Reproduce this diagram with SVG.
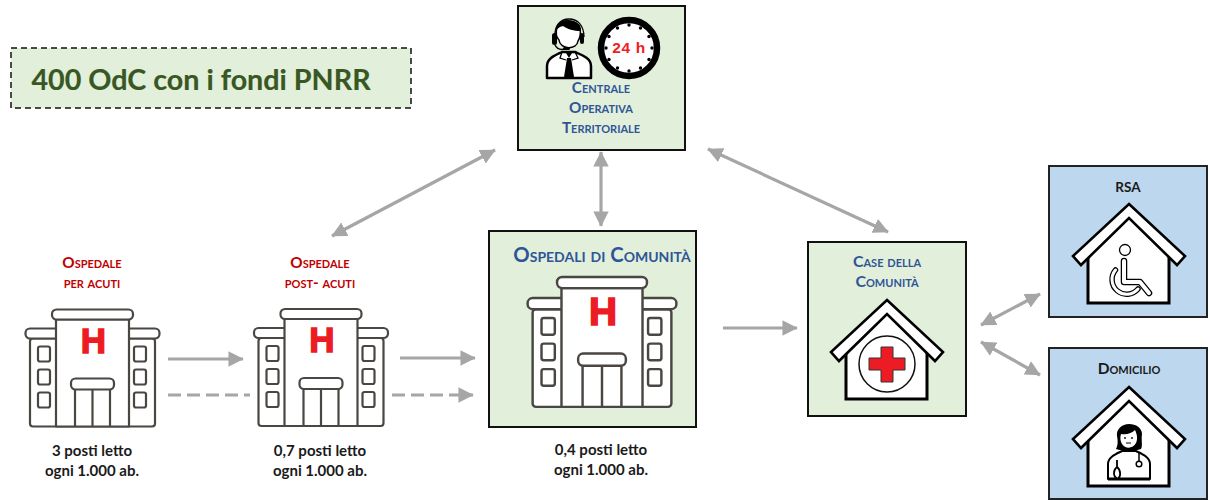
<svg xmlns="http://www.w3.org/2000/svg" xmlns:xlink="http://www.w3.org/1999/xlink" width="1210" height="500" viewBox="0 0 1210 500">
<style>
text{font-family:Lato,Carlito,"Open Sans",sans-serif;font-weight:700;text-anchor:middle}
.sc{font-variant:small-caps}
.red{fill:#c00000;font-size:15.300px}
.blue{fill:#2f5597;font-size:15.300px}
.blk{fill:#1a1a1a;font-size:15px}
.green{fill:#e2efda;stroke:#111;stroke-width:2}
.sky{fill:#bdd7ee;stroke:#222;stroke-width:2}
.arrow{fill:none;stroke:#a6a6a6;stroke-width:3.2}
.dash{stroke-dasharray:13 6}
.hl{fill:#fff;stroke:#4a4642;stroke-width:2.2;stroke-linejoin:round}
.hp{fill:none;stroke:#4a4642;stroke-width:2.2}
.hh{font-family:"Liberation Sans",Arial,sans-serif;font-weight:700;font-size:35px;fill:#ed1c24;stroke:#ed1c24;stroke-width:1.4}
.roof{fill:#fff;stroke:#000;stroke-width:2.6;stroke-linejoin:miter}
.wall{fill:#fff;stroke:#000;stroke-width:3}
</style>
<defs>
<marker id="ah" viewBox="0 0 10 10" refX="9.500" refY="5" markerWidth="4.800" markerHeight="4.800" orient="auto-start-reverse"><path d="M0 0L10 5L0 10Z" fill="#a6a6a6"/></marker>
<g id="hospital">
<rect class="hl" x="-62.500" y="29" width="125" height="88" rx="3"/>
<rect class="hl" x="-67" y="19" width="134" height="10" rx="4.500"/>
<rect class="hl" x="-36.500" y="10" width="73" height="107"/>
<rect class="hl" x="-40.500" y="0" width="81" height="10" rx="4.500"/>
<rect class="hp" x="-54.500" y="37" width="12" height="15" rx="2"/>
<rect class="hp" x="-54.500" y="60" width="12" height="15" rx="2"/>
<rect class="hp" x="-54.500" y="83" width="12" height="15" rx="2"/>
<rect class="hp" x="41.500" y="37" width="12" height="15" rx="2"/>
<rect class="hp" x="41.500" y="60" width="12" height="15" rx="2"/>
<rect class="hp" x="41.500" y="83" width="12" height="15" rx="2"/>
<path class="hp" d="M-17.500 80V117M0 80V117M17.500 80V117"/>
<rect class="hl" x="-21.500" y="69" width="43" height="11" rx="4.500"/>
<text class="hh" x="1" y="43">H</text>
</g>
<g id="house">
<path class="wall" d="M-41 45V99H40V45L0 8Z"/>
<path class="roof" d="M0 0L56 52L48 61L0 14L-48 61L-56 52Z"/>
</g>
</defs>

<g id="connectors">
<path class="arrow" marker-start="url(#ah)" marker-end="url(#ah)" d="M495 150L332 236"/>
<path class="arrow" marker-start="url(#ah)" marker-end="url(#ah)" d="M601 152V226"/>
<path class="arrow" marker-start="url(#ah)" marker-end="url(#ah)" d="M708 149L888 232"/>
<path class="arrow" marker-end="url(#ah)" d="M168 359H243"/>
<path class="arrow dash" d="M168 395H250"/>
<path class="arrow" marker-end="url(#ah)" d="M400 358H475"/>
<path class="arrow dash" marker-end="url(#ah)" d="M392 395H473"/>
<path class="arrow" marker-end="url(#ah)" d="M723 328H797"/>
<path class="arrow" marker-start="url(#ah)" marker-end="url(#ah)" d="M981 325L1040 294"/>
<path class="arrow" marker-start="url(#ah)" marker-end="url(#ah)" d="M981 342L1040 375"/>
</g>

<g id="title">
<rect x="11" y="48" width="400" height="60" fill="#e2efda" stroke="#111" stroke-width="1.500" stroke-dasharray="6 4"/>
<text x="201" y="90" style="font-size:28.700px;fill:#385723;stroke:#385723;stroke-width:.15">400 OdC con i fondi PNRR</text>
</g>

<g id="cot">
<rect class="green" x="518" y="6" width="167" height="144"/>
<g id="operator">
<path d="M555 37C554 26 560 19 569 19C578 19 584 26 584 37" fill="none" stroke="#000" stroke-width="1.300"/>
<path d="M557 27C560 19 578 19 580 28C581 34 580 38 578 41C577 50 560 50 559 40C556 37 556 31 557 27Z" fill="#fff" stroke="#000" stroke-width="1.500"/>
<path d="M555 34C557 28 559 27 563 26C567 29 574 31 581 31C581 24 575 20 568 20C560 20 555 26 555 34Z" fill="#000"/>
<rect x="552" y="33" width="5" height="12" rx="2.500" fill="#000"/>
<rect x="580" y="33" width="4" height="11" rx="2" fill="#000"/>
<path d="M555 45C557 49 561 50 565 49" fill="none" stroke="#000" stroke-width="1.500"/>
<rect x="563" y="47" width="7" height="3" rx="1.500" fill="#000"/>
<path d="M547 78V66C547 58 556 55 562 52H575C582 55 591 58 591 66V78Z" fill="#fff" stroke="#000" stroke-width="2.500" stroke-linejoin="round"/>
<path d="M566 53L569 58L572 53ZM567 58H571L574 77H564Z" fill="#000"/>
<path d="M562 52L560 58L566 60M575 52L578 58L572 60" fill="none" stroke="#000" stroke-width="1.300"/>
</g>
<g id="clock">
<circle cx="629" cy="48" r="28" fill="#fff" stroke="#000" stroke-width="6.500"/>
<g fill="#000">
<circle cx="629" cy="25" r="1.700"/><circle cx="640.500" cy="28" r="1.700"/><circle cx="649" cy="36.500" r="1.700"/><circle cx="652" cy="48" r="1.700"/><circle cx="649" cy="59.500" r="1.700"/><circle cx="640.500" cy="68" r="1.700"/><circle cx="629" cy="71" r="1.700"/><circle cx="617.500" cy="68" r="1.700"/><circle cx="609" cy="59.500" r="1.700"/><circle cx="606" cy="48" r="1.700"/><circle cx="609" cy="36.500" r="1.700"/><circle cx="617.500" cy="28" r="1.700"/>
</g>
<text x="629" y="53" style="font-family:'Liberation Sans',Arial,sans-serif;font-size:15.500px;fill:#f01c24;letter-spacing:.6px">24 h</text>
</g>
<text class="blue sc" x="601" y="93">Centrale</text>
<text class="blue sc" x="601" y="113">Operativa</text>
<text class="blue sc" x="601" y="133">Territoriale</text>
</g>

<g id="ospedale-acuti">
<text class="red sc" x="92" y="268">Ospedale</text>
<text class="red sc" x="92" y="288">per acuti</text>
<use xlink:href="#hospital" href="#hospital" transform="translate(92.500 309.500)"/>
<text class="blk" x="92" y="456">3 posti letto</text>
<text class="blk" x="92" y="476">ogni 1.000 ab.</text>
</g>

<g id="ospedale-post-acuti">
<text class="red sc" x="320" y="268">Ospedale</text>
<text class="red sc" x="320" y="288">post- acuti</text>
<use xlink:href="#hospital" href="#hospital" transform="translate(321 309)"/>
<text class="blk" x="320" y="456">0,7 posti letto</text>
<text class="blk" x="320" y="476">ogni 1.000 ab.</text>
</g>

<g id="ospedali-comunita">
<rect class="green" x="489" y="231" width="207" height="196"/>
<text class="sc" x="602" y="262" style="fill:#2f5597;font-size:20.300px">Ospedali di Comunità</text>
<use xlink:href="#hospital" href="#hospital" transform="translate(602 277) scale(1.110)"/>
<text class="blk" x="601" y="455">0,4 posti letto</text>
<text class="blk" x="601" y="475">ogni 1.000 ab.</text>
</g>

<g id="case-comunita">
<rect class="green" x="808" y="242" width="158" height="174"/>
<text class="blue sc" x="887" y="267" style="font-size:16px">Case della</text>
<text class="blue sc" x="887" y="287" style="font-size:16px">Comunità</text>
<use xlink:href="#house" href="#house" transform="translate(887 300)"/>
<circle cx="887" cy="364" r="28" fill="#fff" stroke="#111" stroke-width="1.500"/>
<path d="M881 347H893V358H905V370H893V382H881V370H869V358H881Z" fill="#ed1c24" stroke="#333" stroke-width="1"/>
</g>

<g id="rsa">
<rect class="sky" x="1049" y="166" width="158" height="151"/>
<text class="blk" x="1128" y="192" style="font-size:13.500px">RSA</text>
<use xlink:href="#house" href="#house" transform="translate(1129 204)"/>
<circle cx="1125" cy="250" r="5.500" fill="#fff" stroke="#000" stroke-width="1.300"/>
<g fill="none" stroke-linecap="round" stroke-linejoin="round">
<path d="M1115.500 270A14 14 0 1 0 1138 289" stroke="#000" stroke-width="5.500"/>
<path d="M1124 261V282H1140L1149 293" stroke="#000" stroke-width="6.500"/>
<path d="M1115.500 270A14 14 0 1 0 1138 289" stroke="#fff" stroke-width="3"/>
<path d="M1124 261V282H1140L1149 293" stroke="#fff" stroke-width="4"/>
</g>
</g>

<g id="domicilio">
<rect class="sky" x="1049" y="348" width="158" height="151"/>
<text class="blk sc" x="1129" y="374" style="font-size:15.500px">Domicilio</text>
<use xlink:href="#house" href="#house" transform="translate(1129 387)"/>
<g id="nurse">
<path d="M1108 479V464C1108 457 1116 454 1122 451H1136C1142 454 1150 457 1150 464V479Z" fill="#fff" stroke="#000" stroke-width="2" stroke-linejoin="round"/>
<path d="M1108 479H1150" stroke="#000" stroke-width="3"/>
<path d="M1117 436C1116 429 1122 424 1129 424C1136 424 1142 428 1142 434C1141 440 1143 446 1141 449C1135 451 1122 451 1116 449C1118 445 1118 441 1117 436Z" fill="#000"/>
<path d="M1121 434C1127 435 1132 433 1135 430C1137 434 1138 439 1136 443C1133 449 1125 449 1122 444C1120 441 1120 437 1121 434Z" fill="#fff"/>
<path d="M1126 443H1131" stroke="#000" stroke-width="1"/>
<circle cx="1125" cy="438" r=".9" fill="#000"/><circle cx="1132" cy="438" r=".9" fill="#000"/>
<path d="M1117 460V467C1113 470 1113 477 1117 478M1117 467C1121 470 1121 477 1118 478" fill="none" stroke="#000" stroke-width="1.800"/>
<path d="M1139 453V461" stroke="#000" stroke-width="1.500"/>
<circle cx="1139" cy="464" r="2.800" fill="#fff" stroke="#000" stroke-width="1.500"/>
</g>
</g>
</svg>
